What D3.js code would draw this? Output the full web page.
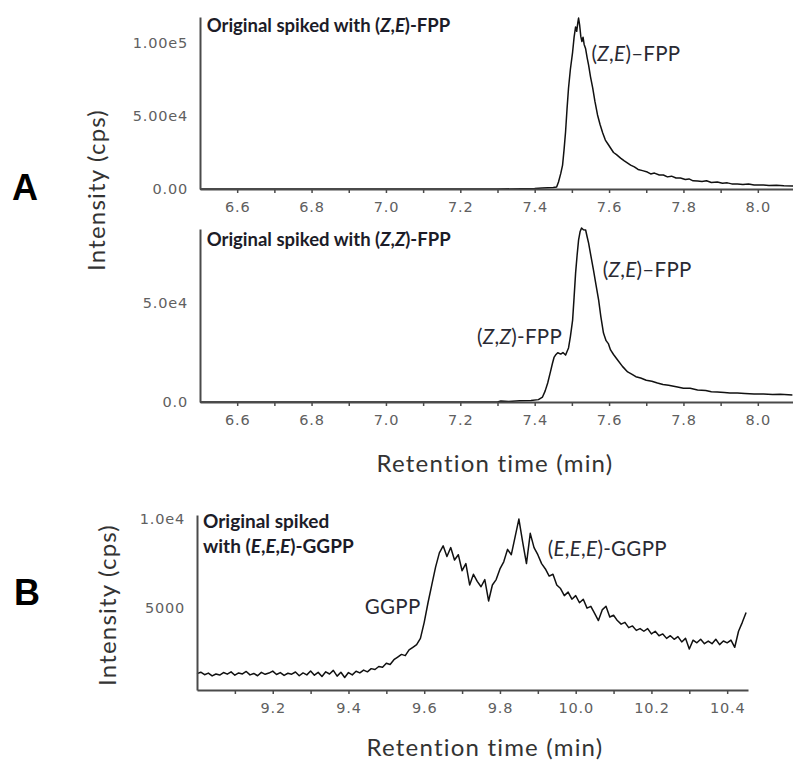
<!DOCTYPE html>
<html>
<head>
<meta charset="utf-8">
<script src="https://cdn.jsdelivr.net/npm/d3@7"></script>
<style>
  body { margin: 0; background: #fff; }
  svg { display: block; }
  .axis .domain { stroke: #4a4a4a; stroke-width: 2; }
  .axis .tick line { stroke: #4a4a4a; stroke-width: 1.5; }
  .axis .tick text {
    font-family: "DejaVu Sans", sans-serif;
    font-size: 14.5px;
    fill: #606060;
    letter-spacing: 0.8px;
  }
  .trace { fill: none; stroke: #111; stroke-width: 1.5; stroke-linejoin: round; }
  .panel-title { font-family: Lato, sans-serif; font-weight: bold; font-size: 18.5px; fill: #1c1c28; }
  .panel-title.b { font-size: 19px; }
  .peak-label { font-family: Lato, sans-serif; font-size: 20.5px; fill: #2a2a33; letter-spacing: 0.3px; }
  .axis-title { font-family: Lato, sans-serif; font-size: 24px; fill: #333; letter-spacing: 1.2px; }
  .panel-letter { font-family: "Liberation Sans", Arial, sans-serif; font-weight: bold; font-size: 36px; fill: #000; }
</style>
</head>
<body>
<div id="chart"></div>
<script>
// ---- data: [retention time (min), intensity (cps)] ----
const zeFppTrace = [
  [6.50, 0], [7.30, 0], [7.40, 300], [7.42, 700], [7.45, 1000], [7.459, 1400],
  [7.464, 4800], [7.470, 10500], [7.475, 16400], [7.479, 27000], [7.483, 39000],
  [7.487, 55000], [7.491, 69200], [7.496, 82000], [7.502, 93800], [7.506, 104000],
  [7.510, 111000], [7.513, 108000], [7.516, 114000], [7.518, 117100], [7.521, 112000],
  [7.524, 104500], [7.527, 101000], [7.530, 104000], [7.533, 99000], [7.537, 96000],
  [7.541, 90000], [7.545, 84900], [7.550, 77000], [7.556, 69200], [7.562, 60000],
  [7.569, 50700], [7.576, 44000], [7.583, 38400], [7.590, 33500], [7.597, 30800],
  [7.604, 28100], [7.612, 25000], [7.620, 23500], [7.631, 21200], [7.640, 19500],
  [7.650, 17800], [7.658, 16400], [7.668, 15200], [7.678, 13400], [7.690, 12600],
  [7.703, 11600], [7.712, 10300], [7.722, 10900], [7.735, 9600], [7.746, 9600],
  [7.757, 8300], [7.768, 8800], [7.780, 7500], [7.792, 7500], [7.805, 6500],
  [7.815, 6900], [7.826, 5600], [7.838, 5500], [7.850, 5200], [7.862, 5600],
  [7.875, 4500], [7.891, 4800], [7.905, 3900], [7.918, 4200], [7.930, 3500],
  [7.945, 3400], [7.960, 3100], [7.975, 3400], [7.990, 2700], [8.015, 2700],
  [8.030, 2400], [8.050, 2600], [8.070, 2200], [8.095, 2100]
];

const zzFppTrace = [
  [6.50, 0], [7.30, 0], [7.309, 500], [7.33, 300], [7.36, 600], [7.39, 800],
  [7.41, 1200], [7.421, 2500], [7.428, 5500], [7.435, 9600], [7.442, 15000],
  [7.448, 19700], [7.452, 22500], [7.456, 23700], [7.462, 24900], [7.470, 24200],
  [7.476, 25000], [7.483, 23700], [7.487, 25500], [7.491, 27300], [7.496, 33000],
  [7.502, 41400], [7.506, 53000], [7.510, 65100], [7.514, 74000], [7.518, 81800],
  [7.522, 86000], [7.526, 87900], [7.531, 87000], [7.537, 86900], [7.541, 83500],
  [7.545, 80300], [7.551, 74000], [7.558, 66700], [7.565, 59000], [7.572, 51500],
  [7.578, 43000], [7.585, 34800], [7.592, 31000], [7.598, 29500], [7.604, 26300],
  [7.612, 24000], [7.623, 21200], [7.636, 18000], [7.650, 15200], [7.662, 14000],
  [7.672, 12800], [7.685, 12100], [7.700, 11000], [7.715, 10500], [7.730, 9600],
  [7.745, 8800], [7.760, 8500], [7.784, 7600], [7.800, 7000], [7.818, 6900],
  [7.838, 6100], [7.860, 5800], [7.875, 5200], [7.891, 5100], [7.910, 4800],
  [7.925, 4600], [7.945, 4500], [7.965, 4300], [7.990, 4100], [8.015, 4000],
  [8.040, 3800], [8.060, 3900], [8.093, 3500]
];

const ggppTrace = [
  [9.00, 1320], [9.01, 1400], [9.02, 1260], [9.03, 1350], [9.04, 1190], [9.05, 1300],
  [9.06, 1240], [9.07, 1380], [9.08, 1290], [9.09, 1420], [9.10, 1230], [9.11, 1360],
  [9.12, 1300], [9.13, 1440], [9.14, 1250], [9.15, 1330], [9.16, 1200], [9.17, 1390],
  [9.18, 1280], [9.19, 1350], [9.20, 1460], [9.21, 1270], [9.22, 1380], [9.23, 1220],
  [9.24, 1340], [9.25, 1290], [9.26, 1410], [9.27, 1200], [9.28, 1360], [9.29, 1250],
  [9.30, 1470], [9.31, 1230], [9.32, 1390], [9.33, 1160], [9.34, 1420], [9.35, 1300],
  [9.36, 1500], [9.37, 1180], [9.38, 1400], [9.39, 1100], [9.40, 1380], [9.41, 1250],
  [9.42, 1450], [9.43, 1360], [9.44, 1520], [9.45, 1420], [9.46, 1600], [9.47, 1550],
  [9.48, 1720], [9.49, 1680], [9.50, 1900], [9.51, 1830], [9.52, 2100], [9.53, 2250],
  [9.54, 2400], [9.55, 2330], [9.56, 2650], [9.57, 2800], [9.58, 2950], [9.59, 3300],
  [9.60, 4200], [9.61, 5300], [9.62, 6300], [9.63, 7300], [9.64, 8100], [9.65, 8500],
  [9.66, 7900], [9.67, 8400], [9.68, 7700], [9.69, 8000], [9.70, 7100], [9.71, 7500],
  [9.72, 6300], [9.73, 6900], [9.74, 6500], [9.75, 6200], [9.76, 6600], [9.77, 5400],
  [9.78, 6300], [9.79, 6600], [9.80, 7200], [9.81, 7600], [9.82, 8300], [9.83, 8000],
  [9.84, 9000], [9.85, 10000], [9.86, 8700], [9.87, 7500], [9.88, 9200], [9.89, 8400],
  [9.90, 8000], [9.91, 7500], [9.92, 7200], [9.93, 6800], [9.94, 6900], [9.95, 6300],
  [9.96, 6100], [9.97, 5700], [9.98, 5900], [9.99, 5500], [10.00, 5700], [10.01, 5300],
  [10.02, 5500], [10.03, 5000], [10.04, 5100], [10.05, 4700], [10.06, 4300], [10.07, 4900],
  [10.08, 5100], [10.09, 4500], [10.10, 4600], [10.11, 4300], [10.12, 4100], [10.13, 4200],
  [10.14, 3900], [10.15, 4000], [10.16, 3750], [10.17, 3850], [10.18, 3700], [10.19, 3850],
  [10.20, 3550], [10.21, 3700], [10.22, 3450], [10.23, 3550], [10.24, 3300], [10.25, 3450],
  [10.26, 3250], [10.27, 3400], [10.28, 3100], [10.29, 3300], [10.30, 2700], [10.31, 3200],
  [10.32, 3050], [10.33, 3250], [10.34, 3000], [10.35, 3150], [10.36, 3000], [10.37, 3250],
  [10.38, 2950], [10.39, 3150], [10.40, 3050], [10.41, 3200], [10.42, 2800], [10.43, 3700],
  [10.44, 4200], [10.45, 4750]
];

// ---- axis ticks ----
const fppMinorTicks = [6.6, 6.7, 6.8, 6.9, 7.0, 7.1, 7.2, 7.3, 7.4, 7.5, 7.6, 7.7, 7.8, 7.9, 8.0];
const fppTickLabels = [6.6, 6.8, 7.0, 7.2, 7.4, 7.6, 7.8, 8.0];
const ggppMinorTicks = [9.1, 9.2, 9.3, 9.4, 9.5, 9.6, 9.7, 9.8, 9.9, 10.0, 10.1, 10.2, 10.3, 10.4];
const ggppTickLabels = [9.2, 9.4, 9.6, 9.8, 10.0, 10.2, 10.4];

const zeYTicks = [0, 50000, 100000];
const zeYLabels = ["0.00", "5.00e4", "1.00e5"];
const zzYTicks = [0, 50000];
const zzYLabels = ["0.0", "5.0e4"];
const ggppYTicks = [5000, 10000];
const ggppYLabels = ["5000", "1.0e4"];

const svg = d3.select("#chart").append("svg").attr("width", 793).attr("height", 763);

// text with italic pieces, parts = [[text, italic], ...]
function richText(sel, parts) {
  parts.forEach(([t, it]) => {
    sel.append("tspan").text(t).attr("font-style", it ? "italic" : null);
  });
  return sel;
}

class ChromatogramVis {
  constructor(_svg, _trace, _xDomain, _xRange, _yDomain, _yRange, _minorTicks, _tickLabels, _yTicks, _yLabels) {
    this.svg = _svg;
    this.trace = _trace;
    this.xDomain = _xDomain;
    this.xRange = _xRange;
    this.yDomain = _yDomain;
    this.yRange = _yRange;
    this.minorTicks = _minorTicks;
    this.tickLabels = _tickLabels;
    this.yTicks = _yTicks;
    this.yLabels = _yLabels;
    this.initVis();
  }

  initVis() {
    let vis = this;

    vis.x = d3.scaleLinear().domain(vis.xDomain).range(vis.xRange);
    vis.y = d3.scaleLinear().domain(vis.yDomain).range(vis.yRange);

    vis.g = vis.svg.append("g");

    vis.xAxis = d3
      .axisBottom(vis.x)
      .tickValues(vis.minorTicks)
      .tickSize(4)
      .tickSizeOuter(0)
      .tickPadding(9)
      .tickFormat((d) => (vis.tickLabels.includes(d) ? d.toFixed(1) : ""));

    vis.yAxis = d3
      .axisLeft(vis.y)
      .tickValues(vis.yTicks)
      .tickSize(0)
      .tickSizeOuter(0)
      .tickPadding(12)
      .tickFormat((d, i) => vis.yLabels[i]);

    vis.line = d3
      .line()
      .x((d) => vis.x(d[0]))
      .y((d) => vis.y(d[1]));

    vis.updateVis();
  }

  updateVis() {
    let vis = this;

    vis.g
      .append("path")
      .datum(vis.trace)
      .attr("class", "trace")
      .attr("d", vis.line);

    vis.g
      .append("g")
      .attr("class", "x-axis axis")
      .attr("transform", `translate(0,${vis.yRange[0]})`)
      .call(vis.xAxis)
      .call((g) => g.attr("font-family", null).attr("font-size", null));

    vis.g
      .append("g")
      .attr("class", "y-axis axis")
      .attr("transform", `translate(${vis.xRange[0]},0)`)
      .call(vis.yAxis)
      .call((g) => g.attr("font-family", null).attr("font-size", null));
  }

  label(t, v, parts, cls) {
    let vis = this;
    return richText(
      vis.g.append("text").attr("class", cls).attr("x", vis.x(t)).attr("y", vis.y(v)),
      parts
    );
  }
}

// Panel A, top: spiked with (Z,E)-FPP
const zeVis = new ChromatogramVis(
  svg, zeFppTrace, [6.5, 8.1], [200, 795], [0, 117800], [189, 17],
  fppMinorTicks, fppTickLabels, zeYTicks, zeYLabels
);
zeVis.label(6.518, 107200, [["Original spiked with (", false], ["Z", true], [",", false], ["E", true], [")-FPP", false]], "panel-title");
zeVis.label(7.553, 88000, [["(", false], ["Z", true], [",", false], ["E", true], [")\u2013FPP", false]], "peak-label");

// Panel A, bottom: spiked with (Z,Z)-FPP
const zzVis = new ChromatogramVis(
  svg, zzFppTrace, [6.5, 8.1], [200, 795], [0, 87400], [402, 229],
  fppMinorTicks, fppTickLabels, zzYTicks, zzYLabels
);
zzVis.label(6.518, 79000, [["Original spiked with (", false], ["Z", true], [",", false], ["Z", true], [")-FPP", false]], "panel-title");
zzVis.label(7.583, 63000, [["(", false], ["Z", true], [",", false], ["E", true], [")\u2013FPP", false]], "peak-label");
zzVis.label(7.245, 29300, [["(", false], ["Z", true], [",", false], ["Z", true], [")-FPP", false]], "peak-label");

// Panel B: spiked with (E,E,E)-GGPP
const ggppVis = new ChromatogramVis(
  svg, ggppTrace, [9.0, 10.455], [197, 748], [400, 10230], [690, 515],
  ggppMinorTicks, ggppTickLabels, ggppYTicks, ggppYLabels
);
ggppVis.label(9.016, 9500, [["Original spiked", false]], "panel-title b");
ggppVis.label(9.016, 8095, [["with (", false], ["E", true], [",", false], ["E", true], [",", false], ["E", true], [")-GGPP", false]], "panel-title b");
ggppVis.label(9.443, 4650, [["GGPP", false]], "peak-label");
ggppVis.label(9.926, 7950, [["(", false], ["E", true], [",", false], ["E", true], [",", false], ["E", true], [")-GGPP", false]], "peak-label");

// axis titles and panel letters
svg.append("text").attr("class", "axis-title").attr("text-anchor", "middle")
  .attr("transform", "translate(105,190) rotate(-90)").text("Intensity (cps)");
svg.append("text").attr("class", "axis-title").attr("text-anchor", "middle")
  .attr("x", 495).attr("y", 472).text("Retention time (min)");
svg.append("text").attr("class", "axis-title").attr("text-anchor", "middle")
  .attr("transform", "translate(116,605) rotate(-90)").text("Intensity (cps)");
svg.append("text").attr("class", "axis-title").attr("text-anchor", "middle")
  .attr("x", 485).attr("y", 756).text("Retention time (min)");

svg.append("text").attr("class", "panel-letter").attr("x", 12).attr("y", 200).text("A");
svg.append("text").attr("class", "panel-letter").attr("x", 14).attr("y", 605).text("B");
</script>
</body>
</html>
